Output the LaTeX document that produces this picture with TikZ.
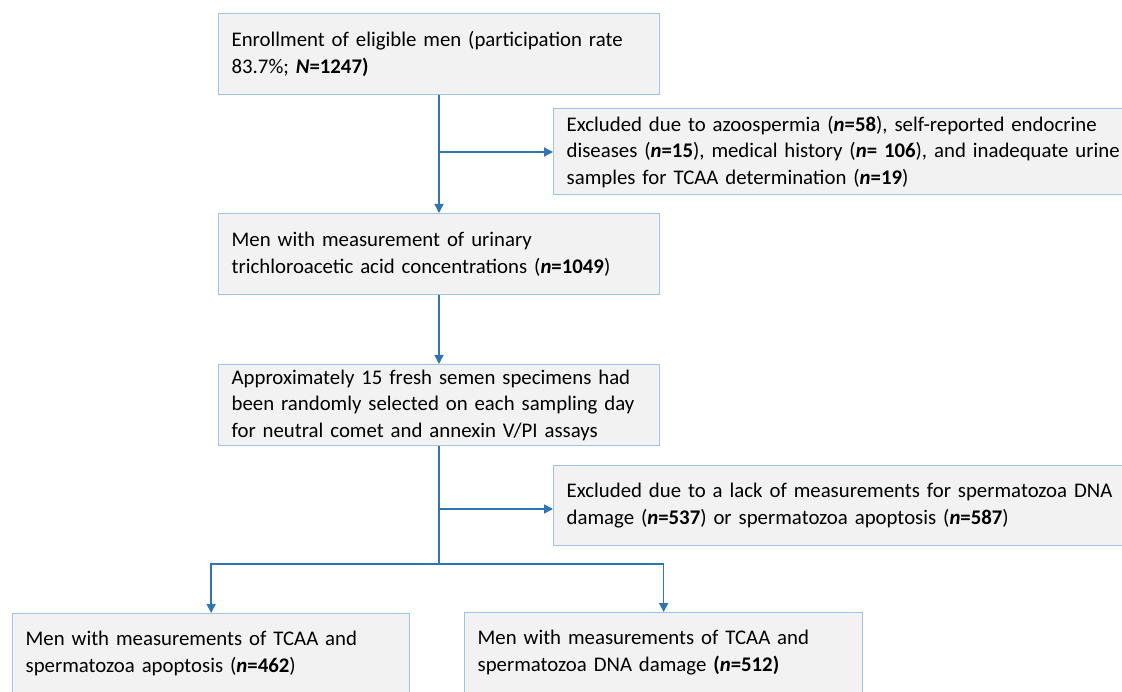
\documentclass[tikz,border=0pt]{standalone}
\usepackage{fontspec}
\setmainfont{Carlito}
\usetikzlibrary{arrows.meta}
\definecolor{boxfill}{HTML}{F2F2F2}
\definecolor{boxline}{HTML}{9DC3E6}
\definecolor{arrowblue}{HTML}{2E75B6}
\newcommand{\nb}[1]{\textbf{\textit{n}=#1}}
\begin{document}
\begin{tikzpicture}[x=1pt,y=-1pt,
  flowbox/.style={draw=boxline, fill=boxfill, line width=1.3pt, anchor=north west,
    inner xsep=13pt, inner ysep=0pt, align=left, font=\fontsize{20.8}{26.5}\selectfont},
  conn/.style={draw=arrowblue, line width=1.4pt},
  arr/.style={conn, -{Triangle[length=9pt,width=9pt]}}]
\useasboundingbox (0,0) rectangle (1122,692);
\clip (0,0) rectangle (1122,692);
\node[flowbox, text width=415pt, minimum height=81pt] (b1) at (218,13)
  {Enrollment of eligible men (participation rate\\83.7\%; \textbf{\textit{N}=1247)}};
\node[flowbox, text width=580pt, minimum height=86pt] (e1) at (553,108)
  {Excluded due to azoospermia (\nb{58}), self-reported endocrine\\diseases (\nb{15}), medical history (\textbf{\textit{n}= 106}), and inadequate urine\\samples for TCAA determination (\nb{19})};
\node[flowbox, text width=415pt, minimum height=81pt] (b2) at (218,213)
  {Men with measurement of urinary\\trichloroacetic acid concentrations (\nb{1049})};
\node[flowbox, text width=415pt, minimum height=81pt] (b3) at (218,364)
  {Approximately 15 fresh semen specimens had\\been randomly selected on each sampling day\\for neutral comet and annexin V/PI assays};
\node[flowbox, text width=580pt, minimum height=80pt] (e2) at (553,465)
  {Excluded due to a lack of measurements for spermatozoa DNA\\damage (\nb{537}) or spermatozoa apoptosis (\nb{587})};
\node[flowbox, text width=371pt, minimum height=80pt] (b4) at (12,613)
  {Men with measurements of TCAA and\\spermatozoa apoptosis (\nb{462})};
\node[flowbox, text width=372pt, minimum height=80pt] (b5) at (464,612)
  {Men with measurements of TCAA and\\spermatozoa DNA damage \textbf{(\textit{n}=512)}};
\coordinate (t1) at (439,152);
\coordinate (t2) at (439,509);
\coordinate (split) at (439,564);
\draw[arr] (b1.south -| split) -- (b2.north -| split);
\draw[arr] (t1) -- (t1 -| e1.west);
\draw[arr] (b2.south -| split) -- (b3.north -| split);
\draw[conn] (b3.south -| split) -- (split);
\draw[arr] (t2) -- (t2 -| e2.west);
\draw[arr] (split) -| (b4.north);
\draw[arr] (split) -| (b5.north);
\end{tikzpicture}
\end{document}
